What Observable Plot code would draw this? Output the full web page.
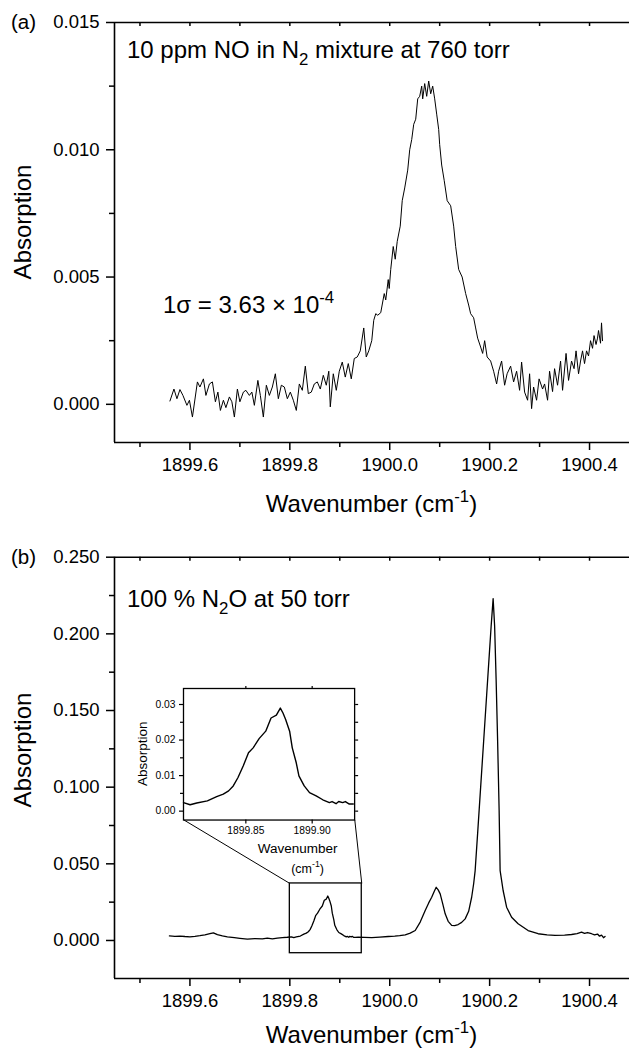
<!DOCTYPE html>
<html><head><meta charset="utf-8">
<script src="https://cdn.jsdelivr.net/npm/d3@7"></script>
<script src="https://cdn.jsdelivr.net/npm/@observablehq/plot@0.6"></script>
<style>
body{margin:0;background:#fff;}
#wrap{position:relative;width:629px;height:1048px;overflow:hidden;}
#wrap svg{position:absolute;overflow:visible;}
</style></head><body><div id="wrap"></div>
<script>
// ---------- Panel (a): 10 ppm NO in N2 ----------
const waveA = [1899.560,1899.568,1899.574,1899.580,1899.586,1899.594,1899.599,1899.605,1899.615,1899.620,1899.627,1899.632,1899.639,1899.645,1899.651,1899.656,1899.661,1899.667,1899.672,1899.679,1899.684,1899.689,1899.695,1899.700,1899.707,1899.712,1899.719,1899.724,1899.729,1899.736,1899.741,1899.747,1899.753,1899.759,1899.765,1899.771,1899.777,1899.783,1899.789,1899.795,1899.801,1899.807,1899.813,1899.819,1899.825,1899.831,1899.837,1899.843,1899.849,1899.855,1899.861,1899.867,1899.873,1899.878,1899.881,1899.887,1899.893,1899.899,1899.905,1899.911,1899.917,1899.923,1899.929,1899.935,1899.941,1899.948,1899.953,1899.958,1899.964,1899.968,1899.972,1899.976,1899.982,1899.989,1899.992,1899.997,1899.999,1900.002,1900.007,1900.011,1900.015,1900.021,1900.025,1900.030,1900.036,1900.040,1900.044,1900.048,1900.052,1900.056,1900.060,1900.064,1900.066,1900.070,1900.074,1900.078,1900.082,1900.086,1900.090,1900.094,1900.098,1900.100,1900.104,1900.109,1900.115,1900.122,1900.128,1900.132,1900.138,1900.145,1900.152,1900.158,1900.162,1900.168,1900.172,1900.176,1900.182,1900.186,1900.190,1900.195,1900.202,1900.208,1900.214,1900.218,1900.224,1900.230,1900.235,1900.242,1900.248,1900.254,1900.260,1900.264,1900.270,1900.276,1900.280,1900.284,1900.288,1900.294,1900.299,1900.306,1900.310,1900.316,1900.320,1900.326,1900.330,1900.336,1900.342,1900.346,1900.353,1900.358,1900.364,1900.369,1900.373,1900.378,1900.382,1900.386,1900.390,1900.394,1900.398,1900.402,1900.406,1900.409,1900.413,1900.416,1900.418,1900.422,1900.424,1900.426];
const absA = [0.00013,0.0006,0.00022,0.00058,0.00035,-0.00004,0.00016,-0.0005,0.00088,0.00068,0.0010,0.00035,0.0008,0.00088,0.0001,0.00048,-0.00024,0.00016,-0.00013,0.00029,0.0001,-0.0005,0.0006,0.0001,0.00048,0.00055,0.00035,0.00048,-0.00004,0.00094,0.00035,-0.0005,0.00075,0.00035,0.00068,0.0012,0.00022,0.00075,0.00068,0.00022,0.00048,0.00016,-0.00024,0.0008,0.00055,0.0015,0.00042,0.00048,0.0008,0.00088,0.0006,0.00114,0.00075,0.0013,-0.0001,0.0012,0.00055,0.0013,0.00166,0.00107,0.0016,0.0010,0.0018,0.00186,0.0021,0.0030,0.00186,0.0021,0.0025,0.0033,0.00356,0.0035,0.0036,0.00435,0.0041,0.0049,0.00455,0.0053,0.0062,0.0057,0.0064,0.0070,0.0080,0.0085,0.0092,0.0100,0.0104,0.0110,0.0112,0.0120,0.0121,0.0125,0.0120,0.0126,0.0121,0.0127,0.0122,0.0125,0.0120,0.0114,0.0108,0.0102,0.0094,0.0088,0.0080,0.0078,0.0070,0.0062,0.0053,0.0050,0.00435,0.0039,0.00356,0.0034,0.0030,0.0026,0.00225,0.0020,0.0025,0.00186,0.0017,0.0013,0.0008,0.0013,0.0017,0.00075,0.0012,0.0015,0.00088,0.0013,0.00055,0.00166,0.00048,0.00016,0.0012,-0.00017,0.00068,0.00016,0.0010,0.0006,0.0008,0.00016,0.0013,0.0005,0.0014,0.00075,0.0017,0.00055,0.0020,0.00094,0.0017,0.0014,0.0021,0.0012,0.0017,0.0021,0.0016,0.0021,0.0019,0.0025,0.0022,0.0027,0.00235,0.0026,0.0029,0.0024,0.0032,0.0025];
const xTicksA = [1899.6,1899.8,1900.0,1900.2,1900.4];
const xMinorA = [1899.5,1899.7,1899.9,1900.1,1900.3];
const yTicksA = [0,0.005,0.010,0.015];
const yMinorA = [0.0025,0.0075,0.0125];

// ---------- Panel (b): 100 % N2O at 50 torr ----------
const waveB = [1899.559,1899.570,1899.580,1899.590,1899.600,1899.610,1899.620,1899.630,1899.640,1899.647,1899.655,1899.665,1899.675,1899.689,1899.700,1899.715,1899.730,1899.745,1899.755,1899.765,1899.775,1899.785,1899.795,
 1899.803,1899.808,1899.813,1899.821,1899.828,1899.833,1899.837,1899.8405,1899.844,1899.848,1899.852,1899.8555,1899.860,1899.865,1899.869,1899.873,1899.876,1899.878,1899.880,1899.883,1899.885,1899.888,1899.890,1899.894,1899.898,1899.903,1899.908,1899.913,1899.915,1899.918,1899.920,1899.923,1899.925,1899.928,1899.931,
 1899.937,1899.950,1899.964,1899.980,1899.997,1900.010,1900.020,1900.031,1900.041,1900.051,1900.061,1900.071,1900.078,1900.084,1900.089,1900.093,1900.097,1900.101,1900.106,1900.111,1900.117,1900.124,1900.130,1900.137,1900.144,1900.151,1900.158,1900.164,1900.168,1900.171,1900.176,1900.182,1900.188,1900.194,1900.199,1900.203,1900.207,1900.210,1900.213,1900.216,1900.219,1900.221,1900.227,1900.234,1900.244,1900.257,1900.277,1900.297,1900.315,1900.331,1900.350,1900.364,1900.375,1900.384,1900.390,1900.396,1900.404,1900.410,1900.416,1900.420,1900.424,1900.428,1900.431];
const absB = [0.0030,0.0027,0.0029,0.0026,0.0024,0.0027,0.0031,0.0036,0.0044,0.0050,0.0038,0.0030,0.0024,0.0018,0.0014,0.0009,0.0012,0.0010,0.0015,0.0011,0.0016,0.0019,0.0021,
 0.0024,0.0018,0.0023,0.0029,0.0041,0.0048,0.0057,0.0071,0.0094,0.0127,0.0164,0.0178,0.0204,0.0225,0.0262,0.0270,0.0290,0.0276,0.0258,0.0225,0.0178,0.0136,0.0099,0.0071,0.0052,0.0043,0.0032,0.0024,0.0027,0.0021,0.0027,0.0024,0.0027,0.0020,0.0020,
 0.0022,0.0020,0.0018,0.0022,0.0026,0.0028,0.0031,0.0037,0.0048,0.0065,0.0120,0.0196,0.0245,0.0282,0.0320,0.0347,0.0330,0.0304,0.0240,0.0174,0.0125,0.0098,0.0097,0.0104,0.0118,0.0141,0.0190,0.0282,0.0370,0.0456,0.070,0.100,0.130,0.160,0.185,0.205,0.223,0.205,0.170,0.130,0.085,0.0456,0.0326,0.0217,0.0152,0.0109,0.0065,0.0044,0.0036,0.0033,0.0035,0.0039,0.0045,0.0054,0.0046,0.0052,0.0044,0.0036,0.0042,0.0028,0.0035,0.0018,0.0026];
const xTicksB = [1899.6,1899.8,1900.0,1900.2,1900.4];
const xMinorB = [1899.5,1899.7,1899.9,1900.1,1900.3];
const yTicksB = [0,0.05,0.10,0.15,0.20,0.25];
const yMinorB = [0.025,0.075,0.125,0.175,0.225];

// ---------- Inset ----------
const insetXDomain = [1899.803, 1899.932];
const insetYDomain = [-0.0025, 0.0345];
const xTicksIn = [1899.85, 1899.90];
const yTicksIn = [0, 0.01, 0.02, 0.03];
const yMinorIn = [0.005, 0.015, 0.025];
// inset frame placement and zoom box, in panel (b) data units
const insetPlaceX = [1899.5874, 1899.930];
const insetPlaceY = [0.0787, 0.1645];
const zoomBoxX = [1899.80, 1899.944];
const zoomBoxY = [-0.0083, 0.0372];

const fontFam = '"Liberation Sans", Arial, Helvetica, sans-serif';
const wrap = document.getElementById("wrap");
const dataA = waveA.map((x, i) => ({x, y: absA[i]}));
const dataB = waveB.map((x, i) => ({x, y: absB[i]}));
const f1 = d3.format(".1f"), f3 = d3.format(".3f"), f2 = d3.format(".2f");
const blank = () => "";

function richText(svg, {x, y, size, anchor = "start", rotate = 0, parts}) {
  const t = d3.select(svg).append("text")
    .attr("transform", `translate(${x},${y})` + (rotate ? ` rotate(${rotate})` : ""))
    .attr("text-anchor", anchor).attr("font-size", size)
    .attr("font-family", fontFam).attr("fill", "#000");
  let shift = 0;
  for (const p of parts) {
    const [s, kind] = Array.isArray(p) ? p : [p, null];
    const target = kind === "sup" ? -0.42 : kind === "sub" ? 0.3 : 0;
    const ts = t.append("tspan").text(s).attr("dy", ((target - shift) * size).toFixed(2));
    if (kind) ts.attr("font-size", size * 0.7);
    shift = target;
  }
}

function panel({data, xDomain, yDomain, xTicks, xMinor, yTicks, yMinor, yFmt, height, mT, mB, extra = [], lineW}) {
  const plotH = height - mT - mB;
  return Plot.plot({
    width: 629, height, marginLeft: 114, marginRight: 0, marginTop: mT, marginBottom: mB,
    style: {fontFamily: fontFam, fontSize: "18.5px", color: "#000", background: "transparent", overflow: "visible"},
    x: {domain: xDomain},
    y: {domain: yDomain},
    marks: [
      Plot.axisX({ticks: xTicks, tickSize: 8, tickPadding: 7, tickFormat: f1, label: null, strokeWidth: 1.5}),
      Plot.axisX({ticks: xMinor, tickSize: 5, tickFormat: blank, label: null, strokeWidth: 1.5}),
      Plot.axisY({ticks: yTicks, tickSize: 8, tickPadding: 7, tickFormat: yFmt, label: null, strokeWidth: 1.5}),
      Plot.axisY({ticks: yMinor, tickSize: 5, tickFormat: blank, label: null, strokeWidth: 1.5}),
      Plot.tickX(xTicks.concat(xMinor), {x: d => d, insetBottom: plotH - 4, stroke: "#000", strokeWidth: 1.5}),
      Plot.ruleX([xDomain[0]], {stroke: "#000", strokeWidth: 1.6}),
      Plot.ruleY([yDomain[0], yDomain[1]], {stroke: "#000", strokeWidth: 1.6}),
      ...extra,
      Plot.line(data, {x: "x", y: "y", stroke: "#000", strokeWidth: lineW})
    ]
  });
}

// Panel (a)
const A = panel({data: dataA, xDomain: [1899.449, 1900.48], yDomain: [-0.0015, 0.015],
  xTicks: xTicksA, xMinor: xMinorA, yTicks: yTicksA, yMinor: yMinorA, yFmt: f3,
  height: 520, mT: 22, mB: 78, lineW: 1});
A.style.left = "0px"; A.style.top = "0px";
wrap.appendChild(A);
richText(A, {x: 11, y: 29, size: 20.5, parts: ["(a)"]});
richText(A, {x: 31, y: 222, size: 24, anchor: "middle", rotate: -90, parts: ["Absorption"]});
richText(A, {x: 371.5, y: 512, size: 24, anchor: "middle", parts: ["Wavenumber (cm", ["-1", "sup"], ")"]});
richText(A, {x: 127, y: 58, size: 24, parts: ["10 ppm NO in N", ["2", "sub"], " mixture at 760 torr"]});
richText(A, {x: 163, y: 313, size: 24, parts: ["1σ = 3.63 × 10", ["-4", "sup"]]});

// Panel (b)
const boxData = [{x1: zoomBoxX[0], x2: zoomBoxX[1], y1: zoomBoxY[0], y2: zoomBoxY[1]}];
const linkData = [
  {x1: insetPlaceX[0], y1: insetPlaceY[0], x2: zoomBoxX[0], y2: zoomBoxY[1]},
  {x1: insetPlaceX[1], y1: insetPlaceY[0], x2: zoomBoxX[1], y2: zoomBoxY[1]}
];
const B = panel({data: dataB, xDomain: [1899.449, 1900.48], yDomain: [-0.0248, 0.25],
  xTicks: xTicksB, xMinor: xMinorB, yTicks: yTicksB, yMinor: yMinorB, yFmt: f3,
  height: 528, mT: 36.7, mB: 70, lineW: 1.3,
  extra: [
    Plot.rect(boxData, {x1: "x1", x2: "x2", y1: "y1", y2: "y2", fill: "none", stroke: "#000", strokeWidth: 1.3}),
    Plot.link(linkData, {x1: "x1", y1: "y1", x2: "x2", y2: "y2", stroke: "#000", strokeWidth: 1})
  ]});
const topB = 520;
B.style.left = "0px"; B.style.top = topB + "px";
wrap.appendChild(B);
richText(B, {x: 11, y: 43.5, size: 20.5, parts: ["(b)"]});
richText(B, {x: 31, y: 230, size: 24, anchor: "middle", rotate: -90, parts: ["Absorption"]});
richText(B, {x: 371.5, y: 523, size: 24, anchor: "middle", parts: ["Wavenumber (cm", ["-1", "sup"], ")"]});
richText(B, {x: 127, y: 87, size: 24, parts: ["100 % N", ["2", "sub"], "O at 50 torr"]});

// Inset placed from panel (b) scales
const sx = B.scale("x"), sy = B.scale("y");
const fx0 = sx.apply(insetPlaceX[0]), fx1 = sx.apply(insetPlaceX[1]);
const fy0 = sy.apply(insetPlaceY[1]), fy1 = sy.apply(insetPlaceY[0]);
const mL = 60, mR = 10, mT = 10, mBt = 80;
const insetData = dataB.filter(d => d.x >= insetXDomain[0] - 1e-9 && d.x <= insetXDomain[1] + 1e-9);
const I = Plot.plot({
  width: (fx1 - fx0) + mL + mR, height: (fy1 - fy0) + mT + mBt,
  marginLeft: mL, marginRight: mR, marginTop: mT, marginBottom: mBt,
  style: {fontFamily: fontFam, fontSize: "10.3px", color: "#000", background: "transparent", overflow: "visible"},
  x: {domain: insetXDomain},
  y: {domain: insetYDomain},
  marks: [
    Plot.frame({stroke: "#000", strokeWidth: 1.3}),
    Plot.axisX({ticks: xTicksIn, tickSize: 4, tickPadding: 3, tickFormat: f2, label: null, strokeWidth: 1.2}),
    Plot.axisX({anchor: "top", ticks: xTicksIn, tickSize: 3, tickFormat: blank, label: null, strokeWidth: 1.2}),
    Plot.axisY({ticks: yTicksIn, tickSize: 4, tickPadding: 4, tickFormat: f2, label: null, strokeWidth: 1.2}),
    Plot.axisY({ticks: yMinorIn, tickSize: 3, tickFormat: blank, label: null, strokeWidth: 1.2}),
    Plot.axisY({anchor: "right", ticks: yTicksIn.concat(yMinorIn), tickSize: 3, tickFormat: blank, label: null, strokeWidth: 1.2}),
    Plot.line(insetData, {x: "x", y: "y", stroke: "#000", strokeWidth: 1.4})
  ]
});
I.style.left = (fx0 - mL) + "px";
I.style.top = (topB + fy0 - mT) + "px";
wrap.appendChild(I);
const iw = fx1 - fx0, ih = fy1 - fy0;
richText(I, {x: mL - 36, y: mT + ih / 2, size: 13.5, anchor: "middle", rotate: -90, parts: ["Absorption"]});
richText(I, {x: mL + iw / 2 + 29, y: mT + ih + 33, size: 13.5, anchor: "middle", parts: ["Wavenumber"]});
richText(I, {x: mL + iw / 2 + 39, y: mT + ih + 53, size: 12.5, anchor: "middle", parts: ["(cm", ["-1", "sup"], ")"]});
</script></body></html>
